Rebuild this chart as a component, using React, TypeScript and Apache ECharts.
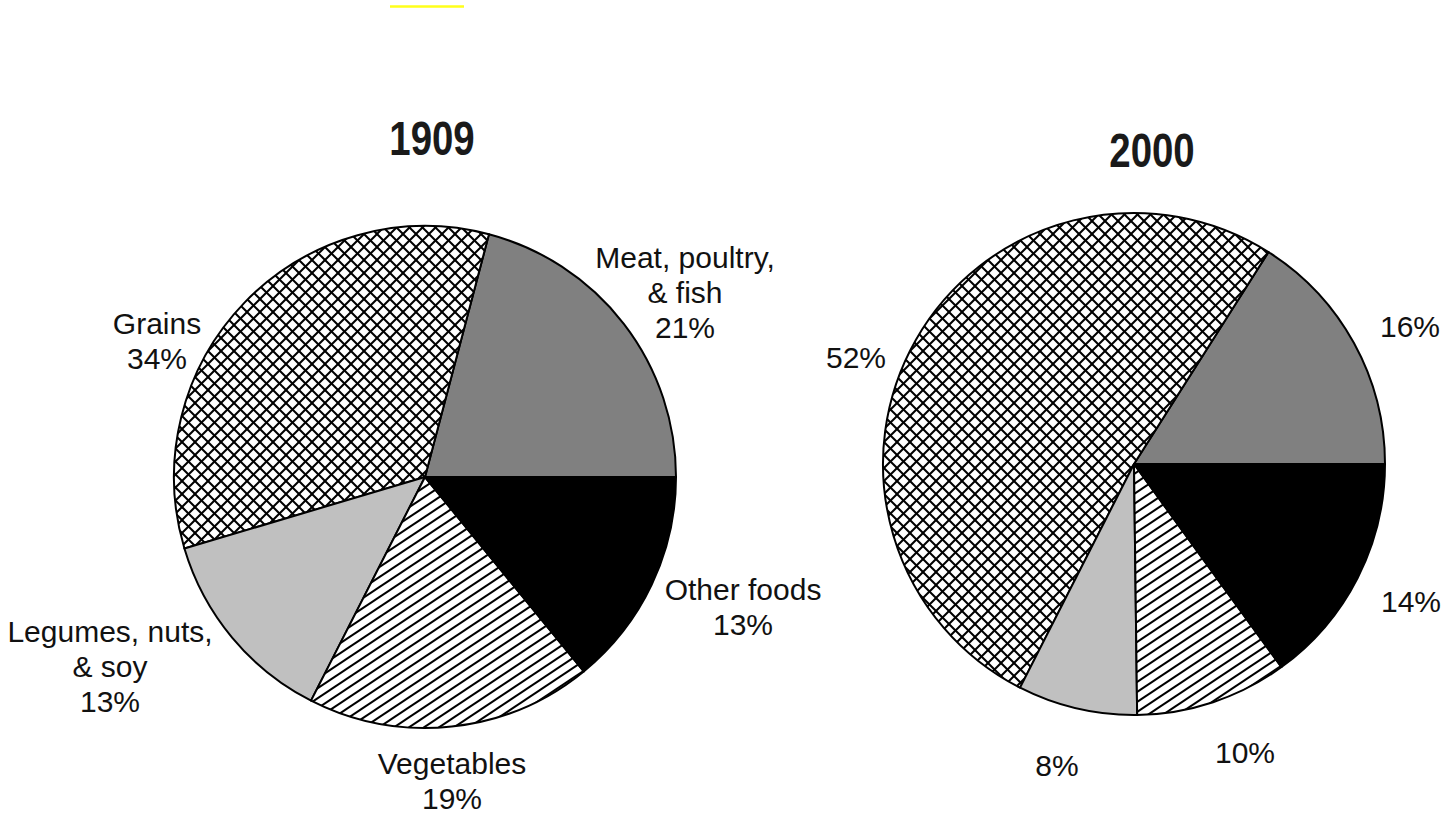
import React, { useEffect, useRef } from "react";
import * as echarts from "echarts";

// ---- data ----
const years = ["1909", "2000"];
const groups = ["Meat, poultry, & fish", "Grains", "Legumes, nuts, & soy", "Vegetables", "Other foods"];
const labelNames = ["Meat, poultry,\n& fish", "Grains", "Legumes, nuts,\n& soy", "Vegetables", "Other foods"];
// slice sizes as drawn (share of circle, %)
const share1909 = [20.9, 33.7, 12.9, 18.4, 14.1];
const share2000 = [16.0, 51.5, 7.7, 9.8, 15.0];
// printed percentage labels
const pct1909 = [21, 34, 13, 19, 13];
const pct2000 = [16, 52, 8, 10, 14];

// ---- layout / style ----
const W = 1441;
const H = 815;
const R = 251;
const CENTERS = [
  [425, 477],
  [1134, 464],
];
const TITLE_POS = [
  [432, 138],
  [1152, 150],
];
const LABEL_POS = [
  [
    [685, 292],
    [157, 341],
    [110, 666],
    [452, 781],
    [743, 607],
  ],
  [
    [1410, 326],
    [856, 357],
    [1057, 765],
    [1245, 752],
    [1411, 601],
  ],
];
const FONT = "'Liberation Sans', Arial, Helvetica, sans-serif";

function makeCross(): HTMLCanvasElement {
  const s = 13;
  const c = document.createElement("canvas");
  c.width = s;
  c.height = s;
  const g = c.getContext("2d")!;
  g.fillStyle = "#ffffff";
  g.fillRect(0, 0, s, s);
  g.strokeStyle = "#000000";
  g.lineWidth = 2;
  for (let k = -1; k <= 1; k++) {
    g.beginPath();
    g.moveTo(-s, -s + k * s);
    g.lineTo(2 * s, 2 * s + k * s);
    g.stroke();
    g.beginPath();
    g.moveTo(-s, 2 * s + k * s);
    g.lineTo(2 * s, -s + k * s);
    g.stroke();
  }
  return c;
}

function makeStripe(): HTMLCanvasElement {
  const w = 15;
  const h = 10;
  const c = document.createElement("canvas");
  c.width = w;
  c.height = h;
  const g = c.getContext("2d")!;
  g.fillStyle = "#ffffff";
  g.fillRect(0, 0, w, h);
  g.strokeStyle = "#000000";
  g.lineWidth = 2;
  for (let k = -1; k <= 1; k++) {
    g.beginPath();
    g.moveTo(-w, 2 * h + k * h);
    g.lineTo(2 * w, -h + k * h);
    g.stroke();
  }
  return c;
}

export default function App() {
  const ref = useRef<HTMLDivElement>(null);

  useEffect(() => {
    if (!ref.current) return;
    const chart = echarts.init(ref.current, null, { renderer: "svg", width: W, height: H });
    const cross = { image: makeCross(), repeat: "repeat" };
    const stripe = { image: makeStripe(), repeat: "repeat" };
    const fills: any[] = ["#808080", cross, "#c0c0c0", stripe, "#000000"];

    const makeSeries = (idx: number, shares: number[], pcts: number[], withNames: boolean) => ({
      type: "pie",
      name: years[idx],
      center: CENTERS[idx],
      radius: R,
      startAngle: 0,
      clockwise: false,
      silent: true,
      avoidLabelOverlap: false,
      data: shares.map((v, i) => ({
        name: groups[i],
        value: v,
        itemStyle: { color: fills[i] },
        label: {
          formatter: withNames ? `${labelNames[i]}\n${pcts[i]}%` : `${pcts[i]}%`,
        },
      })),
      label: {
        show: true,
        position: "outside",
        color: "#111111",
        fontSize: 30,
        lineHeight: 35,
        fontFamily: FONT,
        align: "center",
      },
      labelLine: { show: false },
      labelLayout: (p: any) => {
        const pos = LABEL_POS[idx][p.dataIndex];
        return { x: pos[0], y: pos[1], align: "center", verticalAlign: "middle" };
      },
      itemStyle: { borderColor: "#000000", borderWidth: 2 },
      emphasis: { disabled: true },
    });

    chart.setOption({
      animation: false,
      backgroundColor: "#ffffff",
      graphic: [
        {
          type: "line",
          shape: { x1: 390, y1: 6.5, x2: 464, y2: 6.5 },
          style: { stroke: "#ffff1a", lineWidth: 2.5 },
          silent: true,
        },
        ...years.map((y, i) => ({
          type: "text",
          x: TITLE_POS[i][0],
          y: TITLE_POS[i][1],
          scaleX: 0.8,
          silent: true,
          style: {
            text: y,
            fontSize: 48,
            fontWeight: "bold",
            fontFamily: FONT,
            fill: "#1a1a1a",
            align: "center",
            verticalAlign: "middle",
          },
        })),
      ],
      series: [makeSeries(0, share1909, pct1909, true), makeSeries(1, share2000, pct2000, false)],
    });

    return () => {
      chart.dispose();
    };
  }, []);

  return (
    <div
      ref={ref}
      style={{ position: "absolute", left: 0, top: 0, width: W, height: H, background: "#fff" }}
    />
  );
}
